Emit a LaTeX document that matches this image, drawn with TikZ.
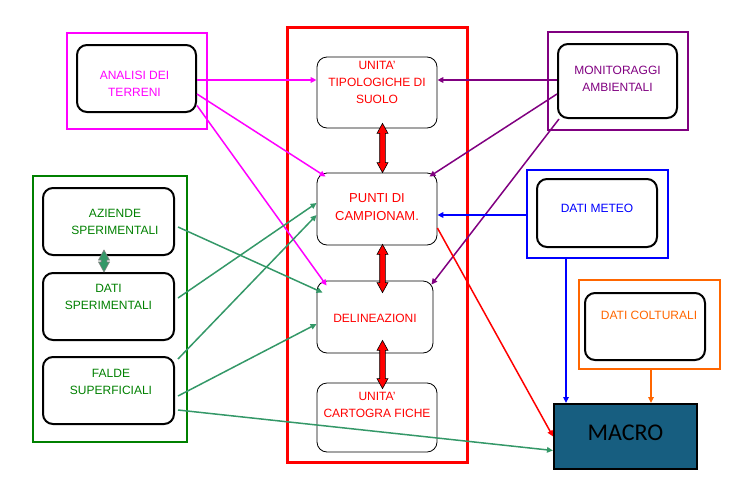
\documentclass[tikz,border=0pt]{standalone}
\usepackage{fontspec}
\setmainfont{Liberation Sans}
\newfontfamily\macrofont{Carlito}
\usetikzlibrary{arrows.meta,calc}

\definecolor{magentaA}{RGB}{255,0,255}
\definecolor{purpleA}{RGB}{128,0,128}
\definecolor{blueA}{RGB}{0,0,255}
\definecolor{orangeA}{RGB}{255,102,0}
\definecolor{redA}{RGB}{255,0,0}
\definecolor{greenA}{RGB}{0,128,0}
\definecolor{greenB}{RGB}{52,152,104}
\definecolor{macroblue}{RGB}{23,94,128}

% vertical double block arrow, from #3 (top) to #4 (bottom)
\newcommand{\blockarrow}[4]{%
\filldraw[fill=#1,draw=#2,line width=0.6pt] let \p1=(#3), \p2=(#4) in
  (\x1,\y1) -- (\x1+5.5pt,\y1-10pt) -- (\x1+2.8pt,\y1-10pt) -- (\x1+2.8pt,\y2+10pt)
  -- (\x1+5.5pt,\y2+10pt) -- (\x1,\y2) -- (\x1-5.5pt,\y2+10pt) -- (\x1-2.8pt,\y2+10pt)
  -- (\x1-2.8pt,\y1-10pt) -- (\x1-5.5pt,\y1-10pt) -- cycle;}

\begin{document}
\begin{tikzpicture}[x=1pt,y=-1pt,
  grp/.style={draw=#1,line width=2.2pt,inner sep=0pt},
  card/.style={draw=black,line width=2pt,rounded corners=10pt,inner sep=0pt},
  thincard/.style={draw=black,line width=0.8pt,rounded corners=10pt,inner sep=0pt},
  txt/.style={text=#1,align=center,inner sep=0pt,font=\fontsize{12}{17}\selectfont},
  link/.style={draw=#1,line width=1.5pt,-{Triangle[length=6pt,width=5.5pt]}}]
\useasboundingbox (0,0) rectangle (738,482);

% group frames
\node[grp=magentaA,minimum width=140pt,minimum height=96pt] (grpanalisi) at (137,81) {};
\node[grp=redA,line width=3pt,minimum width=180pt,minimum height=435pt] (grpcentro) at (377,244.5) {};
\node[grp=purpleA,minimum width=140pt,minimum height=98pt] (grpmonit) at (618,81) {};
\node[grp=blueA,minimum width=141pt,minimum height=88pt] (grpmeteo) at (597.5,214) {};
\node[grp=orangeA,minimum width=141pt,minimum height=89pt] (grpcolt) at (649.5,324.5) {};
\node[grp=greenA,minimum width=154pt,minimum height=266pt] (grpaziende) at (110,309) {};

% boxes
\node[card,minimum width=119pt,minimum height=67pt] (analisi) at (136.5,78.5) {};
\node[thincard,minimum width=120pt,minimum height=71pt] (unita) at (377,92.5) {};
\node[thincard,minimum width=120pt,minimum height=72pt] (punti) at (377,209) {};
\node[thincard,minimum width=116pt,minimum height=72pt] (delin) at (375,317) {};
\node[thincard,minimum width=120pt,minimum height=69pt] (carto) at (377,417.5) {};
\node[card,minimum width=119pt,minimum height=74pt] (monit) at (617.5,81) {};
\node[card,minimum width=120pt,minimum height=68pt] (meteo) at (597,213) {};
\node[card,minimum width=120pt,minimum height=67pt] (colt) at (645,326.5) {};
\node[draw=black,fill=macroblue,line width=2pt,minimum width=143pt,minimum height=65pt] (macro) at (625.5,436.5) {};
\node[card,minimum width=131pt,minimum height=67pt] (aziende) at (108.5,221.5) {};
\node[card,minimum width=131pt,minimum height=67pt] (datisp) at (108.5,306.5) {};
\node[card,minimum width=131pt,minimum height=67pt] (falde) at (108.5,390.5) {};

% labels
\node[txt=magentaA] (analisi-t) at ([shift={(-2pt,-5pt)}]analisi.center) {ANALISI DEI\\TERRENI};
\node[txt=redA] (unita-t) at ([yshift=10.5pt]unita.center) {UNITA'\\TIPOLOGICHE DI\\SUOLO};
\node[txt=redA,font=\fontsize{13}{18}\selectfont] (punti-t) at ([yshift=2pt]punti.center) {PUNTI DI\\CAMPIONAM.};
\node[txt=redA] (delin-t) at ([yshift=-1pt]delin.center) {DELINEAZIONI};
\node[txt=redA] (carto-t) at ([yshift=13pt]carto.center) {UNITA'\\CARTOGRA FICHE};
\node[txt=purpleA] (monit-t) at ([yshift=2pt]monit.center) {MONITORAGGI\\AMBIENTALI};
\node[txt=blueA] (meteo-t) at ([yshift=5pt]meteo.center) {DATI METEO};
\node[txt=orangeA] (colt-t) at ([shift={(4pt,11.5pt)}]colt.center) {DATI COLTURALI};
\node[txt=greenA] (aziende-t) at ([xshift=6.5pt]aziende.center) {AZIENDE\\SPERIMENTALI};
\node[txt=greenA] (datisp-t) at ([yshift=9.5pt]datisp.center) {DATI\\SPERIMENTALI};
\node[txt=greenA] (falde-t) at ([shift={(2.5pt,8.5pt)}]falde.center) {FALDE\\SUPERFICIALI};
\node[inner sep=0pt,font=\macrofont\fontsize{24}{26}\selectfont] (macro-t) at ([yshift=3.5pt]macro.center) {MACRO};

% block arrows
\blockarrow{redA}{black}{[shift={(5.5pt,5pt)}]unita.south}{[xshift=5.5pt]punti.north}
\blockarrow{redA}{black}{[shift={(5.5pt,1pt)}]punti.south}{[shift={(5.5pt,-12pt)}]delin.north}
\blockarrow{redA}{black}{[shift={(7.5pt,13pt)}]delin.south}{[shift={(5.5pt,-6pt)}]carto.north}
\blockarrow{greenB}{gray}{[shift={(-4.5pt,6pt)}]aziende.south}{[xshift=-4.5pt]datisp.north}

% magenta links
\draw[link=magentaA] ([yshift=-1.5pt]analisi.east) -- ([yshift=12.5pt]unita.west);
\draw[link=magentaA] ([yshift=-15.5pt]analisi.east) -- ([shift={(9pt,-4pt)}]punti.north west);
\draw[link=magentaA] ([yshift=-27pt]analisi.east) -- ([shift={(10pt,-5pt)}]delin.north west);

% purple links
\draw[link=purpleA] ([yshift=1pt]monit.west) -- ([yshift=12.5pt]unita.east);
\draw[link=purpleA] ([yshift=-13pt]monit.west) -- ([shift={(-8pt,-4pt)}]punti.north east);
\draw[link=purpleA] ([xshift=2pt]monit.south west) -- ([shift={(-2pt,-4pt)}]delin.north east);

% blue and orange links
\draw[link=blueA] ([yshift=-1pt]grpmeteo.west) -- ([yshift=-6pt]punti.east);
\draw[link=blueA] ([xshift=-31.5pt]grpmeteo.south) -- ([xshift=-59.5pt]macro.north);
\draw[link=orangeA] ([xshift=1.5pt]grpcolt.south) -- ([xshift=25.5pt]macro.north);

% red link
\draw[link=redA] ([yshift=-19pt]punti.east) -- (macro.west);

% green links
\draw[link=greenB] ([shift={(3pt,-5.5pt)}]aziende.east) -- ([shift={(6pt,-12pt)}]delin.north west);
\draw[link=greenB] ([shift={(3pt,8.5pt)}]datisp.east) -- ([yshift=6pt]punti.west);
\draw[link=greenB] ([shift={(3pt,31.5pt)}]falde.east) -- ([yshift=-6pt]punti.west);
\draw[link=greenB] ([shift={(3pt,-5.5pt)}]falde.east) -- ([yshift=-7pt]delin.west);
\draw[link=greenB] ([shift={(3pt,-19.5pt)}]falde.east) -- ([yshift=-14pt]macro.west);

\end{tikzpicture}
\end{document}
